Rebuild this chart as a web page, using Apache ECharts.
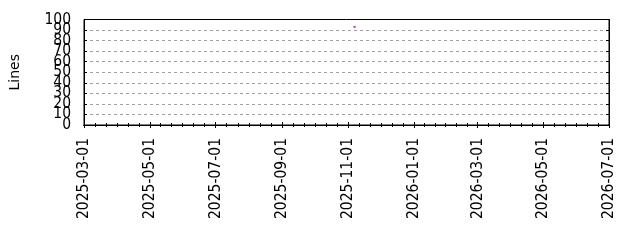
<!DOCTYPE html>
<html>
<head>
<meta charset="utf-8">
<script src="https://cdn.jsdelivr.net/npm/echarts@6/dist/echarts.min.js"></script>
<style>html,body{margin:0;padding:0;background:#fff;}#c{width:640px;height:240px;}</style>
</head>
<body>
<div id="c"></div>
<script>
// ---- data ----
const xTickLabels = ['2025-03-01','2025-05-01','2025-07-01','2025-09-01','2025-11-01','2026-01-01','2026-03-01','2026-05-01','2026-07-01'];
const yTickLabels = [0,10,20,30,40,50,60,70,80,90,100];
const pointDates = ['2025-11-07'];
const pointValues = [93];
const yName = 'Lines';

// ---- build ----
const FONT = '"DejaVu Sans Condensed", "DejaVu Sans"';
const FS = 15.5;
const ts = d => Date.parse(d + 'T00:00:00Z');
const majorTicks = xTickLabels.map(ts);
const minorTicks = [];
for (let i = 0; i < majorTicks.length - 1; i++) {
  for (let k = 1; k < 6; k++) minorTicks.push(majorTicks[i] + (majorTicks[i+1]-majorTicks[i]) * k / 6);
}
const xMin = majorTicks[0], xMax = majorTicks[majorTicks.length-1];
const fmt = v => { const d = new Date(v); const p = n => String(n).padStart(2,'0'); return d.getUTCFullYear()+'-'+p(d.getUTCMonth()+1)+'-'+p(d.getUTCDate()); };

const baseX = (pos, ticks, len, showLabel) => ({
  type: 'value', min: xMin, max: xMax, position: pos, gridIndex: 0, z: 5,
  axisLine: {show: true, lineStyle: {color: '#000', width: 1}},
  axisTick: {show: true, inside: true, length: len, customValues: ticks, lineStyle: {color: '#000', width: 1}},
  axisLabel: {show: showLabel, customValues: ticks, rotate: 90, margin: 13, formatter: v => fmt(v),
    fontFamily: FONT, fontSize: FS, color: '#000', hideOverlap: false, showMinLabel: true, showMaxLabel: true},
  splitLine: {show: false}
});

const evenY = yTickLabels.filter((v, i) => i % 2 === 0);
const oddY = yTickLabels.filter((v, i) => i % 2 === 1);
const labelY = (vals) => ({
  type: 'value', min: 0, max: 100, position: 'left', offset: 0,
  axisLine: {show: false}, axisTick: {show: false}, splitLine: {show: false},
  axisLabel: {margin: 13, fontFamily: FONT, fontSize: FS, color: '#000', formatter: v => String(v),
    hideOverlap: false, showMinLabel: true, showMaxLabel: true, customValues: vals}
});

const chart = echarts.init(document.getElementById('c'), null, {renderer: 'canvas'});
chart.setOption({
  animation: false,
  backgroundColor: '#fff',
  grid: {left: 83.5, right: 31, top: 19.5, bottom: 115, show: true, borderColor: '#000', borderWidth: 1, containLabel: false},
  xAxis: [
    baseX('bottom', majorTicks, 3, true),
    baseX('bottom', minorTicks, 2, false),
    baseX('top', majorTicks, 3, false),
    baseX('top', minorTicks, 2, false)
  ],
  yAxis: [
    {type: 'value', min: 0, max: 100, interval: 10, position: 'left',
     name: yName, nameLocation: 'middle', nameGap: 62, nameRotate: 90,
     nameTextStyle: {fontFamily: '"DejaVu Sans"', fontSize: 14, color: '#000'},
     axisLine: {show: true, lineStyle: {color: '#000'}},
     axisTick: {show: true, inside: true, length: 3, lineStyle: {color: '#000'}},
     axisLabel: {show: false},
     splitLine: {show: true, showMinLine: false, showMaxLine: false, lineStyle: {color: '#a0a0a0', type: [3, 3], width: 1}}},
    {type: 'value', min: 0, max: 100, interval: 10, position: 'right',
     axisLine: {show: true, lineStyle: {color: '#000'}},
     axisTick: {show: true, inside: true, length: 3, lineStyle: {color: '#000'}},
     axisLabel: {show: false}, splitLine: {show: false}},
    labelY(evenY),
    labelY(oddY)
  ],
  series: [{
    type: 'scatter', xAxisIndex: 0, yAxisIndex: 0,
    symbol: 'rect', symbolSize: 2,
    itemStyle: {color: '#9400d3'},
    data: pointDates.map((d, i) => [ts(d), pointValues[i]])
  }]
});
</script>
</body>
</html>
